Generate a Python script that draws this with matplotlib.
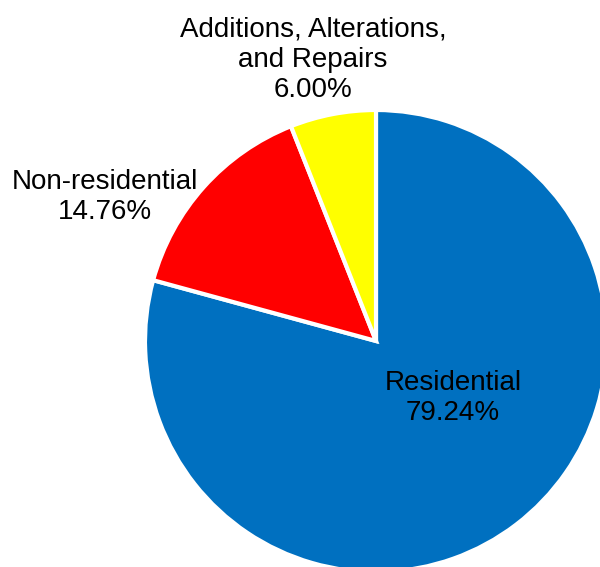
import matplotlib
matplotlib.use('Agg')
import matplotlib.pyplot as plt

plt.rcParams['font.family'] = ['Liberation Sans', 'DejaVu Sans']

categories = ['Residential', 'Non-residential', 'Additions, Alterations,\nand Repairs']
shares = [79.24, 14.76, 6.00]
colors = ['#0070C0', '#FF0000', '#FFFF00']

# label anchor points in pixel units (origin bottom-left)
label_pos = [(453, 169), (105, 370), (313, 507)]

W, H = 600, 567
fig = plt.figure(figsize=(W / 100, H / 100), dpi=100)
ax = fig.add_axes([0, 0, 1, 1])

cx, cy, r = 376, H - 341, 231
ax.pie(shares, colors=colors, startangle=90, counterclock=False,
       center=(cx, cy), radius=r,
       wedgeprops=dict(edgecolor='white', linewidth=3))

for name, val, (x, y) in zip(categories, shares, label_pos):
    ax.text(x, y, f'{name}\n{val:.2f}%', ha='center', va='center',
            fontsize=20, linespacing=1.2, color='black')

ax.set_xlim(0, W)
ax.set_ylim(0, H)
ax.set_aspect('equal')
ax.axis('off')

fig.savefig('out.png', dpi=100)
